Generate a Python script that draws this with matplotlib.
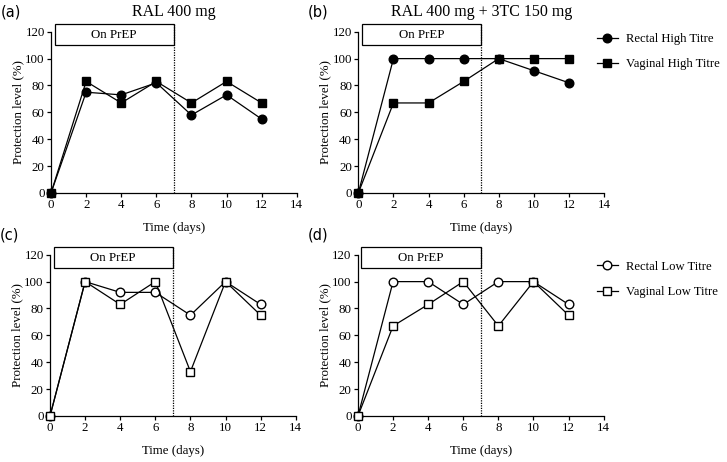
import matplotlib.pyplot as plt
from matplotlib.patches import Rectangle

# days post challenge
days = [0, 2, 4, 6, 8, 10, 12]

# protection level (%) per panel
a_rectal_high = [0, 75, 73, 82, 58, 73, 55]
a_vaginal_high = [0, 83, 67, 83, 67, 83, 67]
b_rectal_high = [0, 100, 100, 100, 100, 91, 82]
b_vaginal_high = [0, 67, 67, 83, 100, 100, 100]
c_rectal_low = [0, 100, 92, 92, 75, 100, 83]
c_vaginal_low = [0, 100, 83, 100, 33, 100, 75]
d_rectal_low = [0, 100, 100, 83, 100, 100, 83]
d_vaginal_low = [0, 67, 83, 100, 67, 100, 75]

titles = ["RAL 400 mg", "RAL 400 mg + 3TC 150 mg"]
panel_tags = ["(a)", "(b)", "(c)", "(d)"]
prep_end = 7

plt.rcParams['font.family'] = 'Liberation Serif'

fig = plt.figure(figsize=(7.27, 4.62), dpi=100)
w, h = 0.338, 0.349
axes = [
    fig.add_axes([0.0702, 0.5823, w, h]),
    fig.add_axes([0.4929, 0.5823, w, h]),
    fig.add_axes([0.0688, 0.0996, w, h]),
    fig.add_axes([0.4924, 0.0996, w, h]),
]

series = [
    (a_rectal_high, a_vaginal_high, True),
    (b_rectal_high, b_vaginal_high, True),
    (c_rectal_low, c_vaginal_low, False),
    (d_rectal_low, d_vaginal_low, False),
]

handles = {}
for i, (ax, (rec, vag, filled)) in enumerate(zip(axes, series)):
    face = 'black' if filled else 'white'
    l1, = ax.plot(days, rec, color='black', lw=0.9, marker='o', ms=6.2,
                  mfc=face, mec='black', mew=1.0, clip_on=False, zorder=3)
    l2, = ax.plot(days, vag, color='black', lw=0.9, marker='s', ms=6.4,
                  mfc=face, mec='black', mew=1.0, clip_on=False, zorder=3)
    handles[i] = (l1, l2)

    ax.set_xlim(0, 14)
    ax.set_ylim(0, 120)
    ax.set_xticks(range(0, 15, 2))
    ax.set_yticks(range(0, 121, 20))
    ax.spines['top'].set_visible(False)
    ax.spines['right'].set_visible(False)
    ax.spines['left'].set_linewidth(0.9)
    ax.spines['bottom'].set_linewidth(0.9)
    ax.tick_params(direction='out', length=3, width=0.9, labelsize=9.3, pad=1.5)
    ax.set_xlabel("Time (days)", fontsize=9.3, labelpad=8)
    ax.set_ylabel("Protection level (%)", fontsize=9.3, labelpad=1)

    # On PrEP box and end-of-dosing marker
    ax.add_patch(Rectangle((0.2, 110), prep_end - 0.2, 16, fill=False,
                           ec='black', lw=0.9, clip_on=False))
    ax.text((0.2 + prep_end) / 2, 117.5, "On PrEP", ha='center', va='center', fontsize=9.3)
    ax.plot([prep_end, prep_end], [0, 126], color='black', lw=0.9, ls=(0, (1, 1)),
            clip_on=False)

    ax.text(-0.205, 1.075, panel_tags[i], transform=ax.transAxes,
            fontsize=10.5, family='DejaVu Sans', ha='left', va='bottom')

for ax, t in zip(axes[:2], titles):
    ax.set_title(t, fontsize=11.5, pad=11)

fig.legend(handles[1], ["Rectal High Titre", "Vaginal High Titre"],
           loc='upper left', bbox_to_anchor=(0.806, 0.953), frameon=False,
           fontsize=9.1, handlelength=1.6, labelspacing=1.05, handletextpad=0.7)
fig.legend(handles[3], ["Rectal Low Titre", "Vaginal Low Titre"],
           loc='upper left', bbox_to_anchor=(0.806, 0.46), frameon=False,
           fontsize=9.1, handlelength=1.6, labelspacing=1.05, handletextpad=0.7)

fig.savefig("out.png", dpi=100)
